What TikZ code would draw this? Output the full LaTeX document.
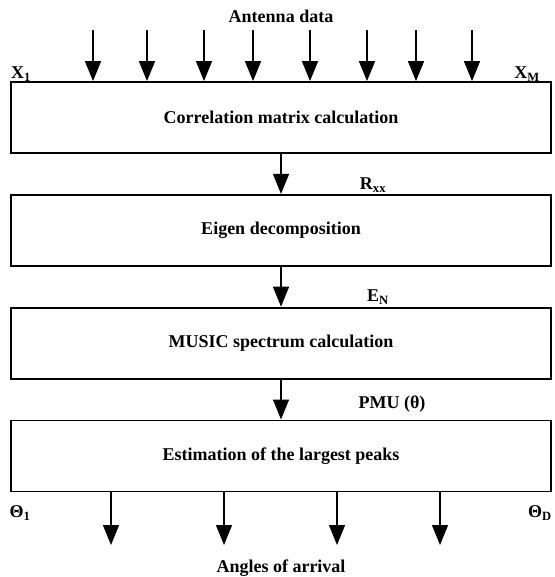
\documentclass[tikz,border=0pt]{standalone}
\usepackage{fontspec}
\setmainfont{Liberation Serif}
\usetikzlibrary{arrows.meta,positioning}

\begin{document}
\begin{tikzpicture}[
  x=1pt, y=1pt,
  >={Triangle[width=16pt,length=20pt]},
  every node/.style={font=\fontsize{18}{21}\selectfont\bfseries},
  box/.style={draw, line width=1.8pt, minimum width=540pt,
              minimum height=71pt, inner sep=0pt},
  flow/.style={->, line width=1.4pt},
]
\useasboundingbox (0,0) rectangle (554,-577);

\node[box] (corr) at (281,-117.5) {Correlation matrix calculation};
\node[box, below=40pt of corr] (eigen) {Eigen decomposition};
\node[box, below=40pt of eigen] (music) {MUSIC spectrum calculation};
\node[box, below=40pt of music] (peaks) {Estimation of the largest peaks};

% antenna inputs
\node (antenna) at (281,-16) {Antenna data};
\node (x1) at (21,-74) {X\textsubscript{1}};
\node (xm) at (527,-74) {X\textsubscript{M}};
\foreach \x [count=\i] in {93,147,204,253,310,367,416,472} {
  \coordinate (in\i) at (\x,-30);
  \draw[flow] (in\i) -- (in\i |- corr.north);
}

\draw[flow] (corr) -- (eigen);
\draw[flow] (eigen) -- (music);
\draw[flow] (music) -- (peaks);
\node (rxx) at (373,-185) {R\textsubscript{xx}};
\node (en) at (378,-297) {E\textsubscript{N}};
\node (pmu) at (392,-404) {PMU (θ)};

% outputs
\foreach \x [count=\i] in {111,224,337,440} {
  \coordinate (out\i) at (\x,-545);
  \draw[flow] (out\i |- peaks.south) -- (out\i);
}
\node (th1) at (20,-513) {Θ\textsubscript{1}};
\node (thd) at (540,-513) {Θ\textsubscript{D}};
\node (angles) at (281,-568) {Angles of arrival};
\end{tikzpicture}
\end{document}
